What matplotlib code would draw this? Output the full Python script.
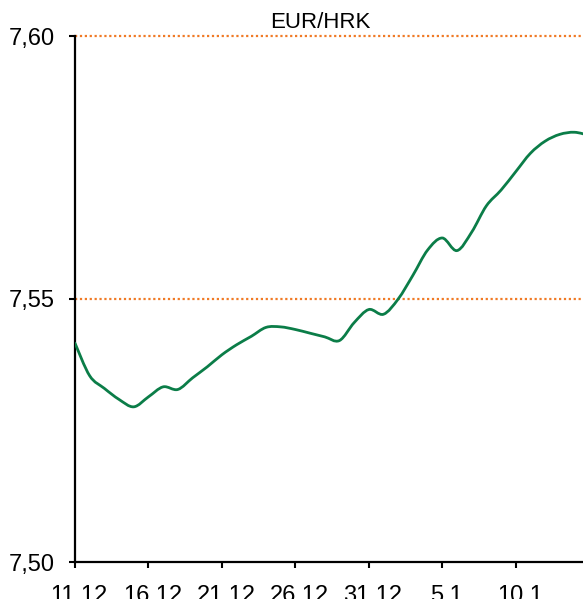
import matplotlib
matplotlib.use("Agg")
import matplotlib.pyplot as plt
import matplotlib.transforms as mtransforms
from matplotlib.path import Path
from matplotlib.patches import PathPatch
from matplotlib import font_manager
import numpy as np

# EUR/HRK daily rate, day 0 = 11.12.
eur_hrk = [7.5416, 7.5354, 7.5330, 7.5309, 7.5295, 7.5314, 7.5333, 7.5328,
           7.5350, 7.5371, 7.5394, 7.5413, 7.5429, 7.5446, 7.5447, 7.5442,
           7.5435, 7.5428, 7.5421, 7.5455, 7.5480, 7.5471, 7.5500, 7.5545,
           7.5593, 7.5616, 7.5592, 7.5627, 7.5677, 7.5707, 7.5742, 7.5777,
           7.5800, 7.5813, 7.5817, 7.5811]
tick_days = [0, 5, 10, 15, 20, 25, 30]
tick_labels = ["11.12.", "16.12.", "21.12.", "26.12.", "31.12.", "5.1.", "10.1."]
y_ticks = [7.50, 7.55, 7.60]
y_labels = ["7,50", "7,55", "7,60"]

installed = {f.name for f in font_manager.fontManager.ttflist}
title_font = "Liberation Sans Narrow" if "Liberation Sans Narrow" in installed else "Liberation Sans"
plt.rcParams["font.family"] = ["Liberation Sans", "DejaVu Sans"]


def smooth_path(x, y):
    # Excel-style smoothed line: cubic bezier segments through every point
    pts = np.column_stack([x, y]).astype(float)
    ext = np.vstack([pts[0], pts, pts[-1]])
    verts = [pts[0]]
    codes = [Path.MOVETO]
    for i in range(len(pts) - 1):
        p0, p1, p2, p3 = ext[i], ext[i + 1], ext[i + 2], ext[i + 3]
        verts += [p1 + (p2 - p0) / 6, p2 - (p3 - p1) / 6, p2]
        codes += [Path.CURVE4] * 3
    return Path(verts, codes)


fig = plt.figure(figsize=(5.83, 5.99), dpi=100)
ax = fig.add_axes([75 / 583, 1 - 562 / 599, 1 - 75 / 583, (562 - 36) / 599])

days = np.arange(len(eur_hrk))
line = PathPatch(smooth_path(days, eur_hrk), facecolor="none", edgecolor="#0B7D48",
                 linewidth=2.0, joinstyle="round", capstyle="round", zorder=3)
ax.add_patch(line)

for v in [7.55, 7.60]:
    ax.axhline(v, color="#F07A26", linewidth=1.6, linestyle=(0, (1, 1.2)),
               zorder=1, clip_on=False)

ax.set_xlim(0, 34.58)
ax.set_ylim(7.50, 7.60)

ax.set_yticks(y_ticks)
ax.set_yticklabels(y_labels)
ax.set_xticks(tick_days)
ax.set_xticklabels(tick_labels)

ax.tick_params(axis="both", direction="out", length=4.5, width=1.5,
               colors="black", labelsize=17)
ax.tick_params(axis="y", pad=10)
ax.tick_params(axis="x", pad=12)

shift = mtransforms.ScaledTranslation(7.5 / 100, 0, fig.dpi_scale_trans)
for lbl in ax.get_xticklabels():
    lbl.set_transform(lbl.get_transform() + shift)

for side in ["top", "right"]:
    ax.spines[side].set_visible(False)
for side in ["left", "bottom"]:
    ax.spines[side].set_linewidth(1.6)
    ax.spines[side].set_color("black")

fig.text(320 / 583, 1 - 28 / 599, "EUR/HRK", ha="center", va="baseline",
         fontsize=16, family=title_font)

fig.savefig("out.png", dpi=100, facecolor="white")
